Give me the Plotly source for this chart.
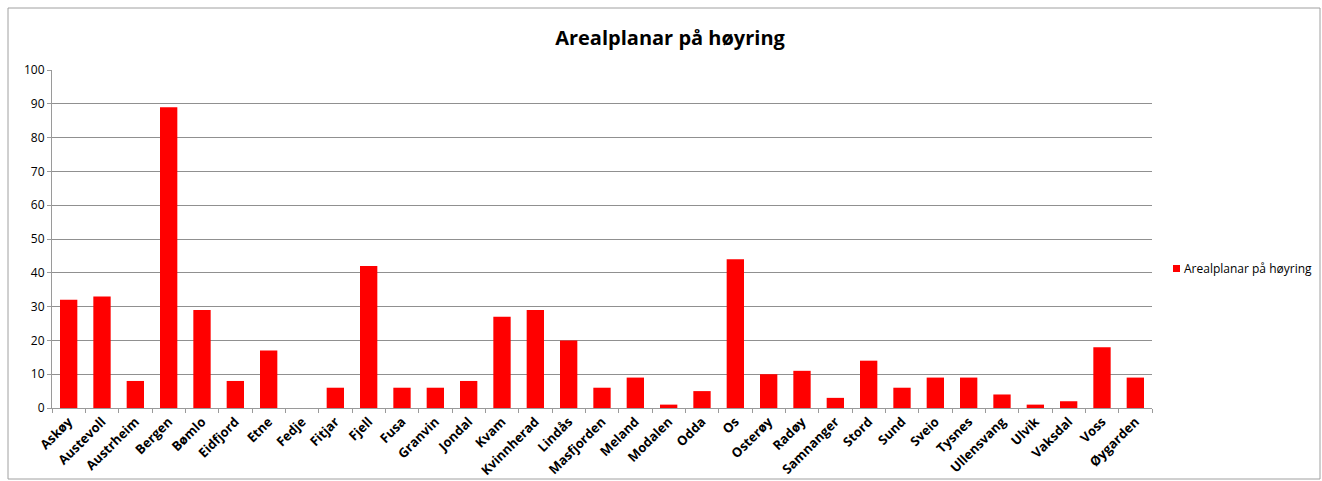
import plotly.graph_objects as go

categories = ["Askøy", "Austevoll", "Austrheim", "Bergen", "Bømlo", "Eidfjord", "Etne", "Fedje",
              "Fitjar", "Fjell", "Fusa", "Granvin", "Jondal", "Kvam", "Kvinnherad", "Lindås",
              "Masfjorden", "Meland", "Modalen", "Odda", "Os", "Osterøy", "Radøy", "Samnanger",
              "Stord", "Sund", "Sveio", "Tysnes", "Ullensvang", "Ulvik", "Vaksdal", "Voss", "Øygarden"]
values = [32, 33, 8, 89, 29, 8, 17, 0, 6, 42, 6, 6, 8, 27, 29, 20, 6, 9, 1, 5, 44, 10, 11, 3,
          14, 6, 9, 9, 4, 1, 2, 18, 9]
series_name = "Arealplanar på høyring"
y_ticks = [0, 10, 20, 30, 40, 50, 60, 70, 80, 90, 100]

font = "Open Sans, Lato, sans-serif"
PL, PR, PT, PB = 52, 1152, 70, 408  # plot area in pixels


def px_x(px):
    return (px - PL) / (PR - PL)


def px_y(py):
    return (PB - py) / (PB - PT)


fig = go.Figure()
fig.add_trace(go.Bar(x=categories, y=values, name=series_name,
                     marker=dict(color="#ff0000", line=dict(width=0)),
                     showlegend=False))

fig.update_layout(
    width=1322, height=481,
    margin=dict(l=PL, r=1322 - PR, t=PT, b=481 - PB, autoexpand=False),
    paper_bgcolor="white", plot_bgcolor="white",
    bargap=0.48,
    title=dict(text="<b>Arealplanar på høyring</b>", x=670 / 1322, xanchor="center",
               y=1 - 38 / 481, yanchor="middle",
               font=dict(family=font, size=20, color="black")),
    font=dict(family=font, color="black"),
    xaxis=dict(type="category", tickangle=-45, automargin=False,
               tickfont=dict(size=13, family=font, weight="bold"),
               showline=True, linecolor="#9a9a9a", linewidth=1,
               ticks="outside", ticklen=4, tickcolor="#9a9a9a", tickson="boundaries",
               showgrid=False),
    yaxis=dict(range=[0, 100], tickvals=y_ticks, automargin=False,
               tickfont=dict(size=12, family=font),
               showgrid=True, gridcolor="#909090", gridwidth=1,
               showline=True, linecolor="#9a9a9a", linewidth=1,
               ticks="outside", ticklen=4, tickcolor="#9a9a9a", zeroline=False),
    shapes=[
        dict(type="rect", xref="paper", yref="paper",
             x0=px_x(8), x1=px_x(1320), y0=px_y(479), y1=px_y(8),
             line=dict(color="#a0a0a0", width=1), fillcolor="rgba(0,0,0,0)", layer="below"),
        dict(type="rect", xref="paper", yref="paper",
             x0=px_x(1173), x1=px_x(1180), y0=px_y(272), y1=px_y(265),
             line=dict(width=0), fillcolor="#ff0000"),
    ],
    annotations=[
        dict(text=series_name, xref="paper", yref="paper", x=px_x(1182), y=px_y(268.5),
             xanchor="left", yanchor="middle", showarrow=False,
             font=dict(family=font, size=12, color="black")),
    ],
)

fig.write_html("out.html", config={"displayModeBar": False})

with open("out.html", "r", encoding="utf-8") as f:
    html = f.read()
html = html.replace("<body>", '<body style="margin:0;padding:0">', 1)
with open("out.html", "w", encoding="utf-8") as f:
    f.write(html)
